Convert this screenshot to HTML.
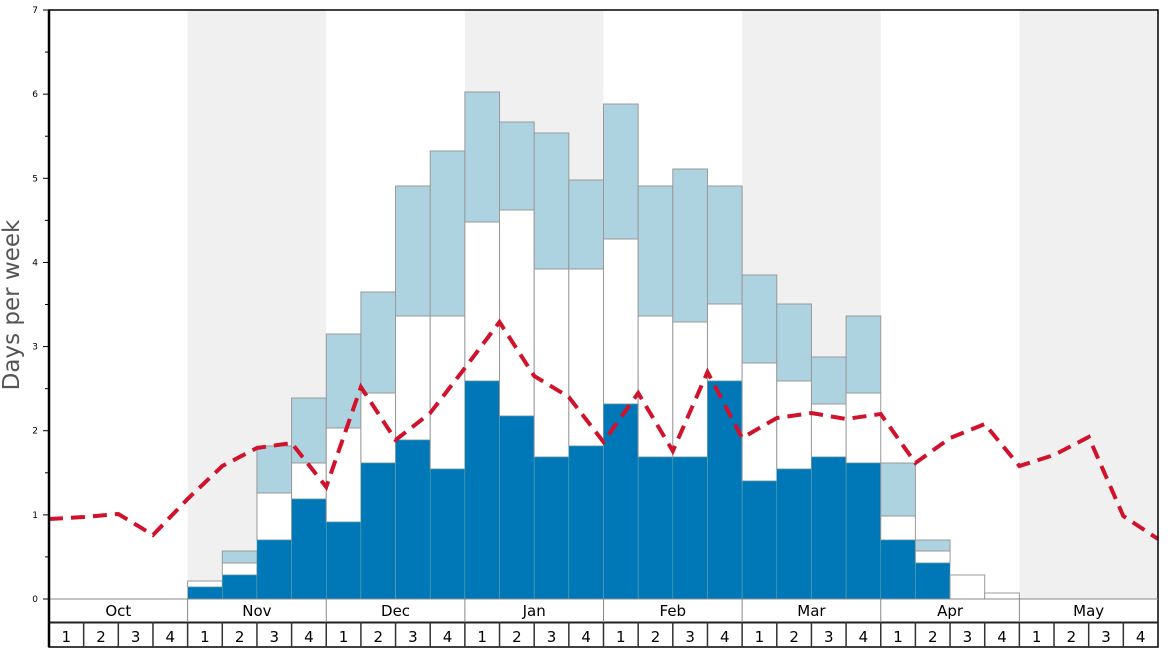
<!DOCTYPE html><html><head><style>body{margin:0;background:#fff}svg{display:block;font-family:"DejaVu Sans","Liberation Sans",sans-serif}</style></head><body>
<svg width="1168" height="648" xmlns="http://www.w3.org/2000/svg">
<g id="bg"></g><g id="bars"></g>
<polyline id="line" fill="none" stroke="#d0122c" stroke-width="4" stroke-dasharray="14,8"/>
<g id="axis"></g>
<text transform="translate(19,305) rotate(-90)" font-size="23" fill="#555" text-anchor="middle">Days per week</text>
</svg>
<script>
const W=34.656,X0=49,ns="http://www.w3.org/2000/svg";
function el(p,t,a,txt){const e=document.createElementNS(ns,t);for(const k in a)e.setAttribute(k,a[k]);if(txt!=null)e.textContent=txt;document.getElementById(p).appendChild(e);return e;}
[1,3,5,7].forEach(m=>el('bg','rect',{x:X0+m*4*W,y:10,width:4*W,height:589,fill:'#f0f0f0'}));
const B={4:[587,581,null],5:[575,563,551],6:[540,493,446],7:[499,463,398],8:[522,428,334],9:[463,393,292],10:[440,316,186],11:[469,316,151],12:[381,222,92],13:[416,210,122],14:[457,269,133],15:[446,269,180],16:[404,239,104],17:[457,316,186],18:[457,322,169],19:[381,304,186],20:[481,363,275],21:[469,381,304],22:[457,404,357],23:[463,393,316],24:[540,516,463],25:[563,551,540],26:[null,575,null],27:[null,593,null]};
for(const i in B){const [b,w,l]=B[i];const x=X0+i*W;
 if(l!=null)el('bars','rect',{x,y:l,width:W,height:w-l,fill:'#aed3e0',stroke:'#999','stroke-width':1});
 el('bars','rect',{x,y:w,width:W,height:(b??599)-w,fill:'#fff',stroke:'#999','stroke-width':1});
 if(b!=null)el('bars','rect',{x,y:b,width:W,height:599-b,fill:'#0077b6',stroke:'#7aa','stroke-width':0.5});}
const L=[519,517,514,535,499,466,448,443,487,387,440,413,368,322,376,397,442,393,451,372,438,418,413,419,414,463,438,424,466,455,437,516,539];
document.getElementById('line').setAttribute('points',L.map((y,i)=>(X0+i*W).toFixed(1)+','+y).join(' '));
for(let v=0;v<=7;v++){const y=599-v*84.14;el('axis','line',{x1:43,x2:49,y1:y,y2:y,stroke:'#000'});el('axis','text',{x:38,y:y+3,'font-size':9,'text-anchor':'end'},v);
 if(v<7){const y2=y-42.07;el('axis','line',{x1:45,x2:49,y1:y2,y2:y2,stroke:'#000'});}}
el('axis','rect',{x:49,y:10,width:1109,height:637,fill:'none',stroke:'#000','stroke-width':1.5});
el('axis','line',{x1:49,x2:1158,y1:599,y2:599,stroke:'#888','stroke-width':1});
el('axis','line',{x1:49,x2:1158,y1:622.5,y2:622.5,stroke:'#222','stroke-width':2});
el('axis','line',{x1:49,x2:49,y1:10,y2:647,stroke:'#000','stroke-width':2.5});
const M=['Oct','Nov','Dec','Jan','Feb','Mar','Apr','May'];
M.forEach((m,k)=>{const x=X0+k*4*W;if(k>0)el('axis','line',{x1:x,x2:x,y1:599,y2:622,stroke:'#888'});
 el('axis','text',{x:x+2*W,y:616,'font-size':15,'text-anchor':'middle'},m);
 for(let j=0;j<4;j++){const xx=x+j*W;if(k+j>0)el('axis','line',{x1:xx,x2:xx,y1:622,y2:647,stroke:'#333','stroke-width':1.5});
  el('axis','text',{x:xx+W/2,y:642,'font-size':15,'text-anchor':'middle'},j+1);}});
</script></body></html>
